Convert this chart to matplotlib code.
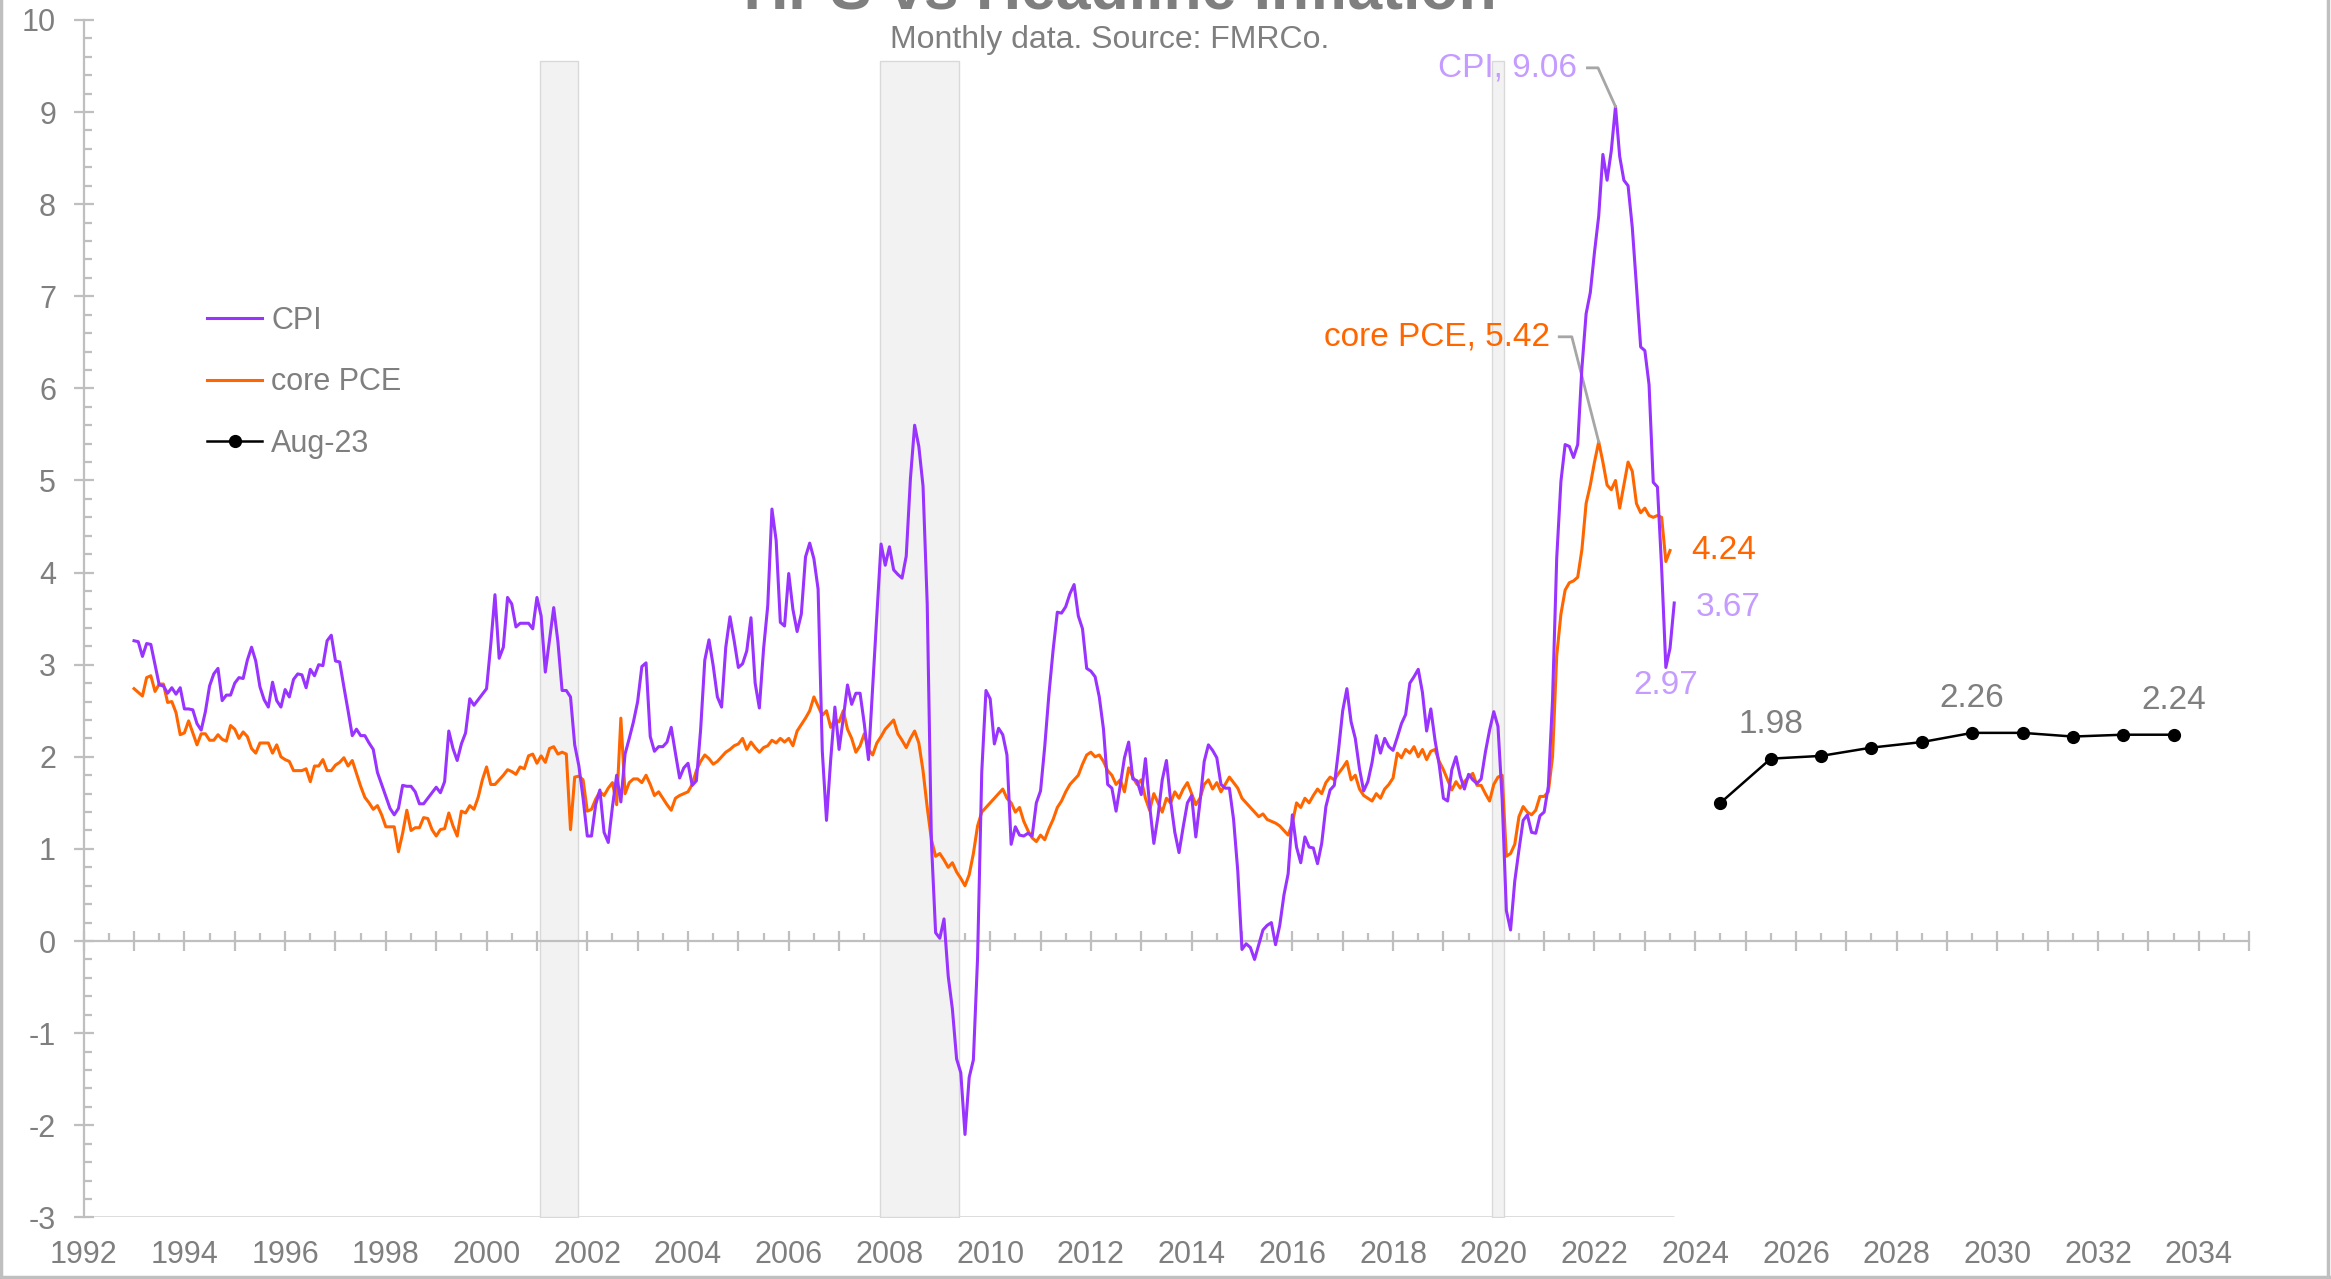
import numpy as np
import matplotlib
matplotlib.use("Agg")
import matplotlib.pyplot as plt
from matplotlib.ticker import MultipleLocator
from matplotlib.lines import Line2D

plt.rcParams['font.family'] = ['Liberation Sans', 'DejaVu Sans']
plt.rcParams['axes.unicode_minus'] = False

# CPI y/y %, monthly, Jan 1993 - Aug 2023
cpi = [
    3.26, 3.25, 3.09, 3.23, 3.22, 3.00, 2.78, 2.77, 2.69, 2.75, 2.68, 2.75,  # 1993
    2.52, 2.52, 2.51, 2.36, 2.29, 2.49, 2.77, 2.90, 2.96, 2.61, 2.67, 2.67,  # 1994
    2.80, 2.86, 2.85, 3.05, 3.19, 3.04, 2.76, 2.62, 2.54, 2.81, 2.61, 2.54,  # 1995
    2.73, 2.65, 2.84, 2.90, 2.89, 2.75, 2.95, 2.88, 3.00, 2.99, 3.26, 3.32,  # 1996
    3.04, 3.03, 2.76, 2.50, 2.23, 2.30, 2.23, 2.23, 2.15, 2.08, 1.83, 1.70,  # 1997
    1.57, 1.44, 1.37, 1.44, 1.69, 1.68, 1.68, 1.62, 1.49, 1.49, 1.55, 1.61,  # 1998
    1.67, 1.61, 1.73, 2.28, 2.09, 1.96, 2.14, 2.26, 2.63, 2.56, 2.62, 2.68,  # 1999
    2.74, 3.22, 3.76, 3.07, 3.19, 3.73, 3.66, 3.41, 3.45, 3.45, 3.45, 3.39,  # 2000
    3.73, 3.53, 2.92, 3.27, 3.62, 3.25, 2.72, 2.72, 2.65, 2.13, 1.90, 1.55,  # 2001
    1.14, 1.14, 1.48, 1.64, 1.18, 1.07, 1.46, 1.80, 1.51, 2.03, 2.20, 2.38,  # 2002
    2.60, 2.98, 3.02, 2.22, 2.06, 2.11, 2.11, 2.16, 2.32, 2.04, 1.77, 1.88,  # 2003
    1.93, 1.69, 1.74, 2.29, 3.05, 3.27, 2.99, 2.65, 2.54, 3.19, 3.52, 3.26,  # 2004
    2.97, 3.01, 3.15, 3.51, 2.80, 2.53, 3.17, 3.64, 4.69, 4.35, 3.46, 3.42,  # 2005
    3.99, 3.60, 3.36, 3.55, 4.17, 4.32, 4.15, 3.82, 2.06, 1.31, 1.97, 2.54,  # 2006
    2.08, 2.42, 2.78, 2.57, 2.69, 2.69, 2.36, 1.97, 2.76, 3.54, 4.31, 4.08,  # 2007
    4.28, 4.03, 3.98, 3.94, 4.18, 5.02, 5.60, 5.37, 4.94, 3.66, 1.07, 0.09,  # 2008
    0.03, 0.24, -0.38, -0.74, -1.28, -1.43, -2.10, -1.48, -1.29, -0.18, 1.84, 2.72,  # 2009
    2.63, 2.14, 2.31, 2.24, 2.02, 1.05, 1.24, 1.15, 1.14, 1.17, 1.14, 1.50,  # 2010
    1.63, 2.11, 2.68, 3.16, 3.57, 3.56, 3.63, 3.77, 3.87, 3.53, 3.39, 2.96,  # 2011
    2.93, 2.87, 2.65, 2.30, 1.70, 1.66, 1.41, 1.69, 1.99, 2.16, 1.76, 1.74,  # 2012
    1.59, 1.98, 1.47, 1.06, 1.36, 1.75, 1.96, 1.52, 1.18, 0.96, 1.24, 1.50,  # 2013
    1.58, 1.13, 1.51, 1.95, 2.13, 2.07, 1.99, 1.70, 1.66, 1.66, 1.32, 0.76,  # 2014
    -0.09, -0.03, -0.07, -0.20, -0.04, 0.12, 0.17, 0.20, -0.04, 0.17, 0.50, 0.73,  # 2015
    1.37, 1.02, 0.85, 1.13, 1.02, 1.01, 0.84, 1.06, 1.46, 1.64, 1.69, 2.07,  # 2016
    2.50, 2.74, 2.38, 2.20, 1.87, 1.63, 1.73, 1.94, 2.23, 2.04, 2.20, 2.11,  # 2017
    2.07, 2.21, 2.36, 2.46, 2.80, 2.87, 2.95, 2.70, 2.28, 2.52, 2.18, 1.91,  # 2018
    1.55, 1.52, 1.86, 2.00, 1.79, 1.65, 1.81, 1.75, 1.71, 1.76, 2.05, 2.29,  # 2019
    2.49, 2.33, 1.54, 0.33, 0.12, 0.65, 0.99, 1.31, 1.37, 1.18, 1.17, 1.36,  # 2020
    1.40, 1.68, 2.62, 4.16, 4.99, 5.39, 5.37, 5.25, 5.39, 6.22, 6.81, 7.04,  # 2021
    7.48, 7.87, 8.54, 8.26, 8.58, 9.06, 8.52, 8.26, 8.20, 7.75, 7.11, 6.45,  # 2022
    6.41, 6.04, 4.98, 4.93, 4.05, 2.97, 3.18, 3.67,                          # 2023
]

# core PCE y/y %, monthly, Jan 1993 - Jul 2023
core_pce = [
    2.74, 2.70, 2.66, 2.86, 2.88, 2.71, 2.79, 2.79, 2.59, 2.60, 2.48, 2.24,  # 1993
    2.26, 2.39, 2.26, 2.13, 2.25, 2.25, 2.18, 2.18, 2.24, 2.19, 2.17, 2.34,  # 1994
    2.30, 2.20, 2.27, 2.22, 2.09, 2.04, 2.15, 2.15, 2.15, 2.04, 2.13, 2.00,  # 1995
    1.97, 1.95, 1.85, 1.85, 1.85, 1.87, 1.73, 1.90, 1.90, 1.97, 1.85, 1.85,  # 1996
    1.91, 1.94, 1.99, 1.90, 1.96, 1.82, 1.68, 1.56, 1.50, 1.43, 1.47, 1.37,  # 1997
    1.24, 1.24, 1.24, 0.97, 1.17, 1.42, 1.20, 1.23, 1.23, 1.34, 1.33, 1.21,  # 1998
    1.14, 1.21, 1.22, 1.39, 1.25, 1.14, 1.41, 1.39, 1.47, 1.43, 1.56, 1.75,  # 1999
    1.89, 1.70, 1.70, 1.75, 1.80, 1.86, 1.84, 1.81, 1.89, 1.87, 2.01, 2.03,  # 2000
    1.93, 2.01, 1.94, 2.09, 2.11, 2.03, 2.05, 2.03, 1.21, 1.78, 1.79, 1.75,  # 2001
    1.41, 1.43, 1.54, 1.62, 1.58, 1.66, 1.72, 1.48, 2.42, 1.60, 1.72, 1.76,  # 2002
    1.76, 1.72, 1.80, 1.70, 1.58, 1.62, 1.55, 1.48, 1.42, 1.55, 1.58, 1.60,  # 2003
    1.62, 1.70, 1.85, 1.95, 2.02, 1.98, 1.92, 1.95, 2.00, 2.05, 2.08, 2.12,  # 2004
    2.14, 2.20, 2.08, 2.16, 2.10, 2.05, 2.10, 2.12, 2.18, 2.15, 2.20, 2.16,  # 2005
    2.20, 2.12, 2.28, 2.35, 2.42, 2.50, 2.65, 2.55, 2.45, 2.50, 2.32, 2.40,  # 2006
    2.38, 2.50, 2.30, 2.20, 2.05, 2.12, 2.25, 2.08, 2.02, 2.15, 2.22, 2.30,  # 2007
    2.35, 2.40, 2.25, 2.18, 2.10, 2.20, 2.28, 2.15, 1.85, 1.45, 1.10, 0.92,  # 2008
    0.95, 0.88, 0.80, 0.85, 0.75, 0.68, 0.60, 0.72, 0.95, 1.25, 1.40, 1.45,  # 2009
    1.50, 1.55, 1.60, 1.65, 1.55, 1.50, 1.40, 1.45, 1.30, 1.20, 1.12, 1.08,  # 2010
    1.15, 1.10, 1.22, 1.32, 1.45, 1.52, 1.62, 1.70, 1.75, 1.80, 1.92, 2.02,  # 2011
    2.05, 2.00, 2.02, 1.95, 1.85, 1.80, 1.70, 1.75, 1.62, 1.88, 1.78, 1.70,  # 2012
    1.75, 1.55, 1.42, 1.60, 1.50, 1.40, 1.55, 1.50, 1.62, 1.55, 1.65, 1.72,  # 2013
    1.60, 1.48, 1.55, 1.70, 1.75, 1.65, 1.72, 1.62, 1.70, 1.78, 1.72, 1.66,  # 2014
    1.55, 1.50, 1.45, 1.40, 1.35, 1.38, 1.32, 1.30, 1.28, 1.25, 1.20, 1.15,  # 2015
    1.28, 1.50, 1.45, 1.55, 1.50, 1.58, 1.65, 1.60, 1.72, 1.78, 1.75, 1.82,  # 2016
    1.88, 1.95, 1.75, 1.80, 1.65, 1.58, 1.55, 1.52, 1.60, 1.55, 1.65, 1.70,  # 2017
    1.77, 2.04, 1.99, 2.08, 2.04, 2.11, 2.00, 2.08, 1.97, 2.06, 2.08, 1.95,  # 2018
    1.86, 1.75, 1.64, 1.73, 1.66, 1.73, 1.78, 1.82, 1.69, 1.69, 1.60, 1.52,  # 2019
    1.70, 1.78, 1.80, 0.92, 0.95, 1.05, 1.35, 1.46, 1.40, 1.37, 1.42, 1.57,  # 2020
    1.57, 1.62, 2.00, 3.10, 3.55, 3.81, 3.89, 3.91, 3.95, 4.25, 4.75, 4.95,  # 2021
    5.20, 5.42, 5.20, 4.95, 4.90, 5.00, 4.70, 4.95, 5.20, 5.10, 4.75, 4.65,  # 2022
    4.70, 4.62, 4.60, 4.62, 4.60, 4.12, 4.24,                                # 2023
]

# TIPS implied inflation path as of Aug-23
proj_years = [2024.5, 2025.5, 2026.5, 2027.5, 2028.5, 2029.5, 2030.5, 2031.5, 2032.5, 2033.5]
proj_vals = [1.50, 1.98, 2.01, 2.10, 2.16, 2.26, 2.26, 2.22, 2.24, 2.24]
proj_labelled = [1, 5, 9]

# recessions (decimal years)
recessions = [(2001.07, 2001.82), (2007.82, 2009.39), (2019.96, 2020.21)]
shade_top = 9.55

year_labels = list(range(1992, 2035, 2))

GRAY = '#7f7f7f'
AXIS = '#bfbfbf'
PURPLE = '#9933ff'
LILAC = '#c49bff'
ORANGE = '#ff6600'

x_cpi = 1993 + np.arange(len(cpi)) / 12
x_pce = 1993 + np.arange(len(core_pce)) / 12

fig = plt.figure(figsize=(23.31, 12.79), dpi=100)
ax = fig.add_axes([0.0359, 0.0482, 0.9290, 0.9362])

ax.hlines(-3, 1992, x_cpi[-1], color='#d9d9d9', lw=2, zorder=1)
for a, b in recessions:
    ax.fill_between([a, b], -3, shade_top, facecolor='#f2f2f2', edgecolor='#d9d9d9', lw=1, zorder=2)

ax.plot(x_cpi, cpi, color=PURPLE, lw=2.2, zorder=4, label='CPI')
ax.plot(x_pce, core_pce, color=ORANGE, lw=2.2, zorder=3, label='core PCE')
ax.plot(proj_years, proj_vals, color='black', lw=1.8, marker='o', ms=8.5, zorder=5, label='Aug-23')

ax.set_xlim(1992, 2035)
ax.set_ylim(-3, 10)

for s in ['top', 'right']:
    ax.spines[s].set_visible(False)
ax.spines['bottom'].set_position(('data', 0))
for s in ['bottom', 'left']:
    ax.spines[s].set_color(AXIS)
    ax.spines[s].set_linewidth(1.6)

ax.xaxis.set_major_locator(MultipleLocator(1))
ax.xaxis.set_minor_locator(MultipleLocator(0.5))
ax.yaxis.set_major_locator(MultipleLocator(1))
ax.yaxis.set_minor_locator(MultipleLocator(0.2))
ax.tick_params(axis='both', which='major', direction='inout', length=13.7, width=1.6, color=AXIS)
ax.tick_params(axis='both', which='minor', direction='in', length=5.8, width=1.6, color=AXIS)
ax.tick_params(axis='x', labelbottom=False)
ax.tick_params(axis='y', labelsize=22, labelcolor=GRAY, pad=13)
ax.set_yticks(range(-3, 11))

secax = ax.secondary_xaxis('bottom')
secax.set_xticks(year_labels)
secax.tick_params(length=0, pad=16, labelsize=22, labelcolor=GRAY)
secax.spines['bottom'].set_visible(False)

# labels
i_max = int(np.argmax(cpi))
px, py = x_cpi[i_max], cpi[i_max]
ax.text(2021.66, 9.48, 'CPI, %.2f' % py, color=LILAC, fontsize=24, ha='right', va='center')
ax.plot([2021.86, 2022.07, px], [9.48, 9.48, py], color='#a6a6a6', lw=2, zorder=6)

j_max = int(np.argmax(core_pce))
qx, qy = x_pce[j_max], core_pce[j_max]
ax.text(2021.12, 6.56, 'core PCE, %.2f' % qy, color=ORANGE, fontsize=24, ha='right', va='center')
ax.plot([2021.3, 2021.55, qx], [6.56, 6.56, qy], color='#a6a6a6', lw=2, zorder=3.5)

ax.text(2023.92, core_pce[-1], '%.2f' % core_pce[-1], color=ORANGE, fontsize=24, ha='left', va='center')
ax.text(2024.0, cpi[-1] - 0.05, '%.2f' % cpi[-1], color=LILAC, fontsize=24, ha='left', va='center')
i_low = len(cpi) - 3
ax.text(x_cpi[i_low], cpi[i_low] - 0.03, '%.2f' % cpi[i_low], color=LILAC, fontsize=24, ha='center', va='top')

for k in proj_labelled:
    ax.text(proj_years[k], proj_vals[k] + 0.2, '%.2f' % proj_vals[k], color=GRAY, fontsize=24,
            ha='center', va='bottom')

leg = ax.legend(loc='upper left', bbox_to_anchor=(207 / 2331, 1 - 306 / 1279),
                bbox_transform=fig.transFigure, frameon=False, fontsize=22, labelcolor=GRAY,
                handlelength=1.8, handletextpad=0.3, labelspacing=1.03, borderpad=0, borderaxespad=0)

fig.text(0.4783, 0.9935, 'TIPS vs Headline Inflation', fontsize=45, fontweight='bold',
         color=GRAY, ha='center', va='baseline')
fig.text(0.476, 1 - 40 / 1279, 'Monthly data. Source: FMRCo.', fontsize=23, color=GRAY,
         ha='center', va='center')

# chart border
for xs, ys in [([0.0006, 0.0006], [0, 1]), ([0, 1], [0.0015, 0.0015]), ([0.9987, 0.9987], [0, 1])]:
    fig.add_artist(Line2D(xs, ys, transform=fig.transFigure, color=AXIS, lw=2.5))

fig.savefig('out.png', dpi=100)
